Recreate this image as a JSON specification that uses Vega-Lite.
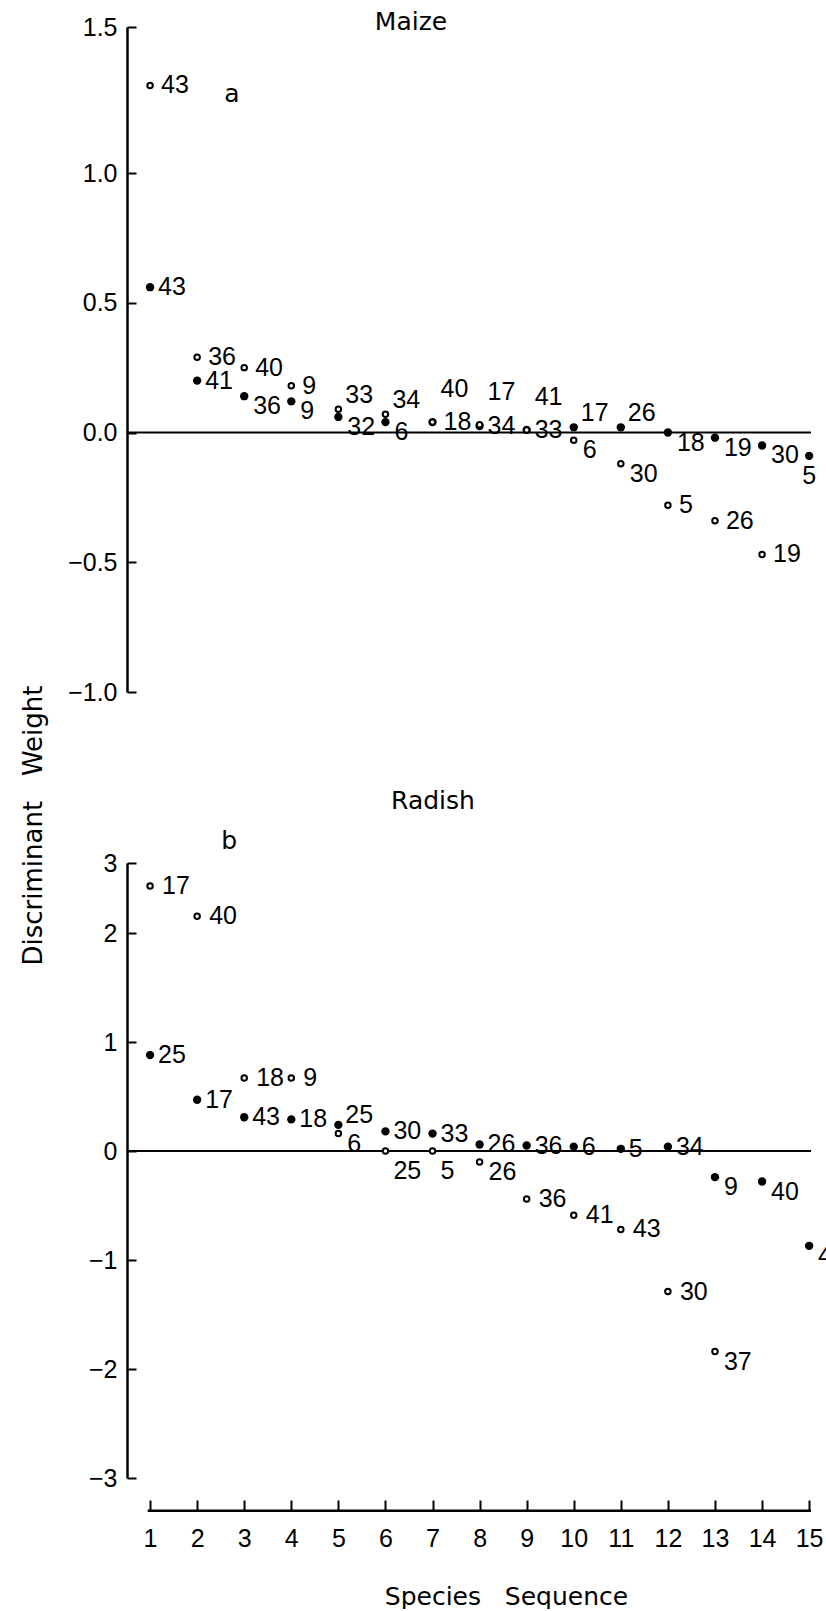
{
  "$schema": "https://vega.github.io/schema/vega-lite/v6.json",
  "background": "white",
  "padding": {"left": 20, "top": 10, "right": 0, "bottom": 0},
  "config": {
    "view": {"stroke": null},
    "font": "DejaVu Sans",
    "axis": {
      "grid": false,
      "domainColor": "black",
      "domainWidth": 2.5,
      "tickColor": "black",
      "tickWidth": 2,
      "labelColor": "black",
      "labelFont": "Liberation Sans Narrow, Liberation Sans",
      "labelFontSize": 25,
      "labelOverlap": false,
      "labelFlush": false,
      "titleColor": "black",
      "titleFont": "DejaVu Sans",
      "titleFontSize": 25,
      "titleFontWeight": "normal"
    },
    "axisY": {"tickSize": -9, "labelPadding": 19},
    "axisX": {"tickSize": -11, "labelPadding": 26, "offset": 33},
    "title": {"font": "DejaVu Sans", "fontSize": 25, "fontWeight": "normal", "color": "black", "anchor": "middle", "frame": "group"},
    "text": {"font": "Liberation Sans Narrow, Liberation Sans", "fontSize": 25, "color": "black", "align": "left", "baseline": "middle"}
  },
  "datasets": {
    "weights": [
      {"crop": "Maize", "type": "open", "rank": 1, "species": "43", "weight": 1.30},
      {"crop": "Maize", "type": "open", "rank": 2, "species": "36", "weight": 0.29},
      {"crop": "Maize", "type": "open", "rank": 3, "species": "40", "weight": 0.25},
      {"crop": "Maize", "type": "open", "rank": 4, "species": "9", "weight": 0.18},
      {"crop": "Maize", "type": "open", "rank": 5, "species": "33", "weight": 0.09},
      {"crop": "Maize", "type": "open", "rank": 6, "species": "34", "weight": 0.07},
      {"crop": "Maize", "type": "open", "rank": 7, "species": "18", "weight": 0.04},
      {"crop": "Maize", "type": "open", "rank": 8, "species": "17", "weight": 0.03},
      {"crop": "Maize", "type": "open", "rank": 9, "species": "41", "weight": 0.01},
      {"crop": "Maize", "type": "open", "rank": 10, "species": "6", "weight": -0.03},
      {"crop": "Maize", "type": "open", "rank": 11, "species": "30", "weight": -0.12},
      {"crop": "Maize", "type": "open", "rank": 12, "species": "5", "weight": -0.28},
      {"crop": "Maize", "type": "open", "rank": 13, "species": "26", "weight": -0.34},
      {"crop": "Maize", "type": "open", "rank": 14, "species": "19", "weight": -0.47},
      {"crop": "Maize", "type": "filled", "rank": 1, "species": "43", "weight": 0.56},
      {"crop": "Maize", "type": "filled", "rank": 2, "species": "41", "weight": 0.20},
      {"crop": "Maize", "type": "filled", "rank": 3, "species": "36", "weight": 0.14},
      {"crop": "Maize", "type": "filled", "rank": 4, "species": "9", "weight": 0.12},
      {"crop": "Maize", "type": "filled", "rank": 5, "species": "32", "weight": 0.06},
      {"crop": "Maize", "type": "filled", "rank": 6, "species": "6", "weight": 0.04},
      {"crop": "Maize", "type": "filled", "rank": 7, "species": "40", "weight": 0.04},
      {"crop": "Maize", "type": "filled", "rank": 8, "species": "34", "weight": 0.025},
      {"crop": "Maize", "type": "filled", "rank": 9, "species": "33", "weight": 0.01},
      {"crop": "Maize", "type": "filled", "rank": 10, "species": "17", "weight": 0.02},
      {"crop": "Maize", "type": "filled", "rank": 11, "species": "26", "weight": 0.02},
      {"crop": "Maize", "type": "filled", "rank": 12, "species": "18", "weight": 0.0},
      {"crop": "Maize", "type": "filled", "rank": 13, "species": "19", "weight": -0.02},
      {"crop": "Maize", "type": "filled", "rank": 14, "species": "30", "weight": -0.05},
      {"crop": "Maize", "type": "filled", "rank": 15, "species": "5", "weight": -0.09},
      {"crop": "Radish", "type": "open", "rank": 1, "species": "17", "weight": 2.67},
      {"crop": "Radish", "type": "open", "rank": 2, "species": "40", "weight": 2.24},
      {"crop": "Radish", "type": "open", "rank": 3, "species": "18", "weight": 0.67},
      {"crop": "Radish", "type": "open", "rank": 4, "species": "9", "weight": 0.67},
      {"crop": "Radish", "type": "open", "rank": 5, "species": "6", "weight": 0.16},
      {"crop": "Radish", "type": "open", "rank": 6, "species": "25", "weight": 0.0},
      {"crop": "Radish", "type": "open", "rank": 7, "species": "5", "weight": 0.0},
      {"crop": "Radish", "type": "open", "rank": 8, "species": "26", "weight": -0.10},
      {"crop": "Radish", "type": "open", "rank": 9, "species": "36", "weight": -0.44},
      {"crop": "Radish", "type": "open", "rank": 10, "species": "41", "weight": -0.59},
      {"crop": "Radish", "type": "open", "rank": 11, "species": "43", "weight": -0.72},
      {"crop": "Radish", "type": "open", "rank": 12, "species": "30", "weight": -1.29},
      {"crop": "Radish", "type": "open", "rank": 13, "species": "37", "weight": -1.84},
      {"crop": "Radish", "type": "filled", "rank": 1, "species": "25", "weight": 0.88},
      {"crop": "Radish", "type": "filled", "rank": 2, "species": "17", "weight": 0.47},
      {"crop": "Radish", "type": "filled", "rank": 3, "species": "43", "weight": 0.31},
      {"crop": "Radish", "type": "filled", "rank": 4, "species": "18", "weight": 0.29},
      {"crop": "Radish", "type": "filled", "rank": 5, "species": "25", "weight": 0.24},
      {"crop": "Radish", "type": "filled", "rank": 6, "species": "30", "weight": 0.18},
      {"crop": "Radish", "type": "filled", "rank": 7, "species": "33", "weight": 0.16},
      {"crop": "Radish", "type": "filled", "rank": 8, "species": "26", "weight": 0.06},
      {"crop": "Radish", "type": "filled", "rank": 9, "species": "36", "weight": 0.05},
      {"crop": "Radish", "type": "filled", "rank": 10, "species": "6", "weight": 0.04},
      {"crop": "Radish", "type": "filled", "rank": 11, "species": "5", "weight": 0.02},
      {"crop": "Radish", "type": "filled", "rank": 12, "species": "34", "weight": 0.04},
      {"crop": "Radish", "type": "filled", "rank": 13, "species": "9", "weight": -0.24},
      {"crop": "Radish", "type": "filled", "rank": 14, "species": "40", "weight": -0.28},
      {"crop": "Radish", "type": "filled", "rank": 15, "species": "41", "weight": -0.87}
    ],
    "tags": [
      {"crop": "Maize", "tag": "a", "rank": 2.74, "weight": 1.27},
      {"crop": "Radish", "tag": "b", "rank": 2.68, "weight": 3.31}
    ]
  },
  "bounds": "flush",
  "spacing": 171,
  "vconcat": [
    {
      "width": 684,
      "height": 665,
      "title": {"text": "Maize", "dx": -58, "dy": 24},
      "layer": [
        {
          "data": {"values": [{}]},
          "mark": {"type": "rule", "color": "black", "strokeWidth": 2},
          "encoding": {
            "y": {"datum": 0, "type": "quantitative", "scale": {"domain": [-1, 1, 1.5], "range": [665, 146, 0], "nice": false, "zero": false}}
          }
        },
        {
          "data": {"name": "weights"},
          "transform": [{"filter": "datum.crop == 'Maize' && datum.type == 'filled'"}],
          "mark": {"type": "circle", "color": "black", "size": 70, "opacity": 1},
          "encoding": {
            "x": {"field": "rank", "type": "quantitative", "scale": {"domain": [0.51, 15.04], "nice": false, "zero": false}, "axis": null},
            "y": {"field": "weight", "type": "quantitative", "scale": {"domain": [-1, 1, 1.5], "range": [665, 146, 0], "nice": false, "zero": false},
                  "axis": {"values": [-1, -0.5, 0, 0.5, 1, 1.5], "format": ".1f", "title": "Discriminant\u00a0\u00a0\u00a0Weight", "titleFontSize": 26, "titleX": -86, "titleY": 798, "titleAngle": -90, "titleAlign": "center", "titleBaseline": "alphabetic"}}
          }
        },
        {
          "data": {"name": "weights"},
          "transform": [{"filter": "datum.crop == 'Maize' && datum.type == 'open'"}],
          "mark": {"type": "point", "shape": "circle", "filled": false, "stroke": "black", "fill": "white", "strokeWidth": 2, "size": 30, "opacity": 1},
          "encoding": {
            "x": {"field": "rank", "type": "quantitative", "axis": null},
            "y": {"field": "weight", "type": "quantitative"}
          }
        },
        {
          "data": {"name": "weights"},
          "transform": [{"filter": "datum.crop == 'Maize' && datum.type == 'open' && indexof([1, 2, 3, 4, 7, 12, 13, 14], datum.rank) >= 0"}],
          "mark": {"type": "text", "dx": 11},
          "encoding": {
            "x": {"field": "rank", "type": "quantitative", "axis": null},
            "y": {"field": "weight", "type": "quantitative"},
            "text": {"field": "species"}
          }
        },
        {
          "data": {"name": "weights"},
          "transform": [{"filter": "datum.crop == 'Maize' && datum.type == 'filled' && indexof([1, 2, 8, 9], datum.rank) >= 0"}],
          "mark": {"type": "text", "dx": 8},
          "encoding": {
            "x": {"field": "rank", "type": "quantitative", "axis": null},
            "y": {"field": "weight", "type": "quantitative"},
            "text": {"field": "species"}
          }
        },
        {
          "data": {"name": "weights"},
          "transform": [{"filter": "datum.crop == 'Maize' && ((datum.type == 'open' && indexof([10, 11], datum.rank) >= 0) || (datum.type == 'filled' && indexof([3, 4, 5, 6, 12, 13, 14], datum.rank) >= 0))"}],
          "mark": {"type": "text", "dx": 9, "dy": 10},
          "encoding": {
            "x": {"field": "rank", "type": "quantitative", "axis": null},
            "y": {"field": "weight", "type": "quantitative"},
            "text": {"field": "species"}
          }
        },
        {
          "data": {"name": "weights"},
          "transform": [{"filter": "datum.crop == 'Maize' && ((datum.type == 'open' && indexof([5, 6], datum.rank) >= 0) || (datum.type == 'filled' && indexof([10, 11], datum.rank) >= 0))"}],
          "mark": {"type": "text", "dx": 7, "dy": -14},
          "encoding": {
            "x": {"field": "rank", "type": "quantitative", "axis": null},
            "y": {"field": "weight", "type": "quantitative"},
            "text": {"field": "species"}
          }
        },
        {
          "data": {"name": "weights"},
          "transform": [{"filter": "datum.crop == 'Maize' && ((datum.type == 'open' && indexof([8, 9], datum.rank) >= 0) || (datum.type == 'filled' && datum.rank == 7))"}],
          "mark": {"type": "text", "dx": 8, "dy": -33},
          "encoding": {
            "x": {"field": "rank", "type": "quantitative", "axis": null},
            "y": {"field": "weight", "type": "quantitative"},
            "text": {"field": "species"}
          }
        },
        {
          "data": {"name": "weights"},
          "transform": [{"filter": "datum.crop == 'Maize' && datum.type == 'filled' && datum.rank == 15"}],
          "mark": {"type": "text", "align": "center", "dy": 20},
          "encoding": {
            "x": {"field": "rank", "type": "quantitative", "axis": null},
            "y": {"field": "weight", "type": "quantitative"},
            "text": {"field": "species"}
          }
        },
        {
          "data": {"name": "tags"},
          "transform": [{"filter": "datum.crop == 'Maize'"}],
          "mark": {"type": "text", "align": "center", "font": "DejaVu Sans"},
          "encoding": {
            "x": {"field": "rank", "type": "quantitative", "axis": null},
            "y": {"field": "weight", "type": "quantitative"},
            "text": {"field": "tag"}
          }
        }
      ]
    },
    {
      "width": 684,
      "height": 615,
      "title": {"text": "Radish", "dx": -36, "dy": -11},
      "layer": [
        {
          "data": {"values": [{}]},
          "mark": {"type": "rule", "color": "black", "strokeWidth": 2},
          "encoding": {
            "y": {"datum": 0, "type": "quantitative", "scale": {"domain": [-3, 2, 3], "range": [615, 70, 0], "nice": false, "zero": false}}
          }
        },
        {
          "data": {"values": [{}]},
          "mark": {"type": "rule", "color": "black", "strokeWidth": 2.5},
          "encoding": {
            "x": {"datum": 0.95, "type": "quantitative"},
            "x2": {"datum": 15.04},
            "y": {"datum": -3.3, "type": "quantitative"}
          }
        },
        {
          "data": {"name": "weights"},
          "transform": [{"filter": "datum.crop == 'Radish' && datum.type == 'filled'"}],
          "mark": {"type": "circle", "color": "black", "size": 70, "opacity": 1},
          "encoding": {
            "x": {"field": "rank", "type": "quantitative", "scale": {"domain": [0.51, 15.04], "nice": false, "zero": false},
                  "axis": {"values": [1, 2, 3, 4, 5, 6, 7, 8, 9, 10, 11, 12, 13, 14, 15], "format": "d", "domain": false, "title": "Species\u00a0\u00a0\u00a0Sequence", "titleX": 379, "titleY": 93, "titleAlign": "center", "titleBaseline": "alphabetic"}},
            "y": {"field": "weight", "type": "quantitative", "scale": {"domain": [-3, 2, 3], "range": [615, 70, 0], "nice": false, "zero": false},
                  "axis": {"values": [-3, -2, -1, 0, 1, 2, 3], "format": "d", "title": null}}
          }
        },
        {
          "data": {"name": "weights"},
          "transform": [{"filter": "datum.crop == 'Radish' && datum.type == 'open'"}],
          "mark": {"type": "point", "shape": "circle", "filled": false, "stroke": "black", "fill": "white", "strokeWidth": 2, "size": 30, "opacity": 1},
          "encoding": {
            "x": {"field": "rank", "type": "quantitative"},
            "y": {"field": "weight", "type": "quantitative"}
          }
        },
        {
          "data": {"name": "weights"},
          "transform": [{"filter": "datum.crop == 'Radish' && datum.type == 'open' && indexof([1, 2, 3, 4, 9, 10, 11, 12], datum.rank) >= 0"}],
          "mark": {"type": "text", "dx": 12},
          "encoding": {
            "x": {"field": "rank", "type": "quantitative"},
            "y": {"field": "weight", "type": "quantitative"},
            "text": {"field": "species"}
          }
        },
        {
          "data": {"name": "weights"},
          "transform": [{"filter": "datum.crop == 'Radish' && datum.type == 'filled' && indexof([1, 2, 3, 4, 6, 7, 8, 9, 10, 11, 12], datum.rank) >= 0"}],
          "mark": {"type": "text", "dx": 8},
          "encoding": {
            "x": {"field": "rank", "type": "quantitative"},
            "y": {"field": "weight", "type": "quantitative"},
            "text": {"field": "species"}
          }
        },
        {
          "data": {"name": "weights"},
          "transform": [{"filter": "datum.crop == 'Radish' && ((datum.type == 'open' && indexof([5, 8, 13], datum.rank) >= 0) || (datum.type == 'filled' && indexof([13, 14, 15], datum.rank) >= 0))"}],
          "mark": {"type": "text", "dx": 9, "dy": 10},
          "encoding": {
            "x": {"field": "rank", "type": "quantitative"},
            "y": {"field": "weight", "type": "quantitative"},
            "text": {"field": "species"}
          }
        },
        {
          "data": {"name": "weights"},
          "transform": [{"filter": "datum.crop == 'Radish' && datum.type == 'filled' && datum.rank == 5"}],
          "mark": {"type": "text", "dx": 7, "dy": -10},
          "encoding": {
            "x": {"field": "rank", "type": "quantitative"},
            "y": {"field": "weight", "type": "quantitative"},
            "text": {"field": "species"}
          }
        },
        {
          "data": {"name": "weights"},
          "transform": [{"filter": "datum.crop == 'Radish' && datum.type == 'open' && indexof([6, 7], datum.rank) >= 0"}],
          "mark": {"type": "text", "dx": 8, "dy": 20},
          "encoding": {
            "x": {"field": "rank", "type": "quantitative"},
            "y": {"field": "weight", "type": "quantitative"},
            "text": {"field": "species"}
          }
        },
        {
          "data": {"name": "tags"},
          "transform": [{"filter": "datum.crop == 'Radish'"}],
          "mark": {"type": "text", "align": "center", "font": "DejaVu Sans"},
          "encoding": {
            "x": {"field": "rank", "type": "quantitative"},
            "y": {"field": "weight", "type": "quantitative"},
            "text": {"field": "tag"}
          }
        }
      ]
    }
  ]
}
